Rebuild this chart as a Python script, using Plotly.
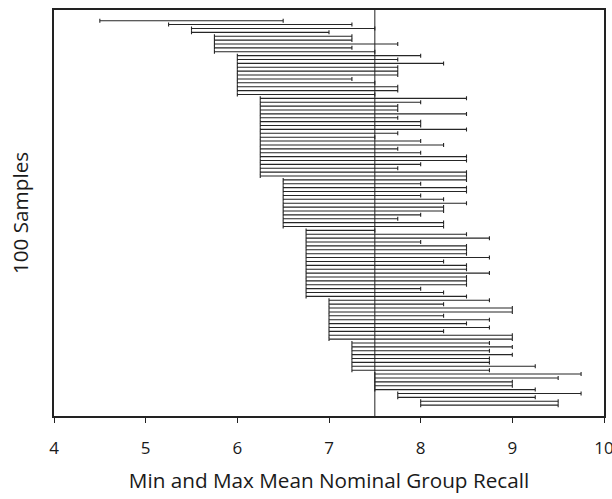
import plotly.graph_objects as go

# Min and max mean nominal group recall for each of 100 samples (sorted by min)
sample_min = (
    [4.5, 5.25, 5.5, 5.5]
    + [5.75] * 5
    + [6.0] * 11
    + [6.25] * 21
    + [6.5] * 13
    + [6.75] * 18
    + [7.0] * 11
    + [7.25] * 8
    + [7.5] * 5
    + [7.75] * 2
    + [8.0] * 2
)
sample_max = [
    6.5, 7.25, 7.5, 7.0,
    7.25, 7.25, 7.75, 7.25, 7.5,
    8.0, 7.75, 8.25, 7.75, 7.75, 7.75, 7.25, 7.5, 7.75, 7.75, 7.5,
    8.5, 8.0, 7.75, 7.75, 8.5, 7.75, 8.0, 8.0, 8.5, 7.75, 7.5, 8.0, 8.25, 7.75,
    8.0, 8.5, 8.5, 8.0, 7.75, 8.5, 8.5,
    8.5, 8.0, 8.5, 8.5, 8.0, 8.25, 8.5, 8.25, 8.25, 8.0, 7.75, 8.25, 8.25,
    7.5, 8.5, 8.75, 8.0, 8.5, 8.5, 8.5, 8.75, 8.25, 8.5, 8.5, 8.75, 8.5, 8.5,
    8.5, 8.0, 8.25, 8.5,
    8.75, 8.25, 9.0, 9.0, 8.25, 8.75, 8.5, 8.75, 8.25, 9.0, 9.0,
    8.75, 9.0, 8.75, 9.0, 8.75, 8.75, 9.25, 8.75,
    9.75, 9.5, 9.0, 9.0, 9.25,
    9.75, 9.25,
    9.5, 9.5,
]
sample_idx = list(range(len(sample_min)))
reference_value = 7.5
x_ticks = [4, 5, 6, 7, 8, 9, 10]

mid = [(a + b) / 2 for a, b in zip(sample_min, sample_max)]
half = [(b - a) / 2 for a, b in zip(sample_min, sample_max)]

fig = go.Figure()
fig.add_trace(go.Scatter(
    x=mid, y=sample_idx, mode="markers",
    marker=dict(size=0.1, opacity=0),
    error_x=dict(type="data", array=half, symmetric=True,
                 color="#262626", thickness=1.1, width=2),
    showlegend=False, hoverinfo="skip",
))
fig.add_shape(type="line", xref="x", yref="paper",
              x0=reference_value, x1=reference_value, y0=0, y1=1,
              line=dict(color="#222222", width=1))

font_family = "Open Sans, Noto Sans, sans-serif"
fig.update_layout(
    width=612, height=499,
    margin=dict(l=54, r=8, t=10, b=83),
    paper_bgcolor="white", plot_bgcolor="white",
    font=dict(family=font_family, color="#1a1a1a"),
    xaxis=dict(
        range=[4, 10], tickvals=x_ticks, ticktext=[str(t) for t in x_ticks],
        ticks="outside", ticklen=5, tickwidth=1, tickcolor="#222",
        showgrid=False, zeroline=False, automargin=False,
        showline=True, linecolor="#222", linewidth=2, mirror=True,
        tickfont=dict(size=17), ticklabelstandoff=11,
        ticklabeloverflow="allow",
        title=dict(text="Min and Max Mean Nominal Group Recall",
                   font=dict(size=20.7), standoff=15),
    ),
    yaxis=dict(
        range=[101.8, -2.75], showticklabels=False, ticks="",
        showgrid=False, zeroline=False, automargin=False,
        showline=True, linecolor="#222", linewidth=2, mirror=True,
        title=dict(text="100 Samples", font=dict(size=20.7), standoff=18),
    ),
)
fig.write_html(
    "out.html",
    config={"displayModeBar": False},
    post_script="document.body.style.margin='0';document.body.style.overflow='hidden';",
)
